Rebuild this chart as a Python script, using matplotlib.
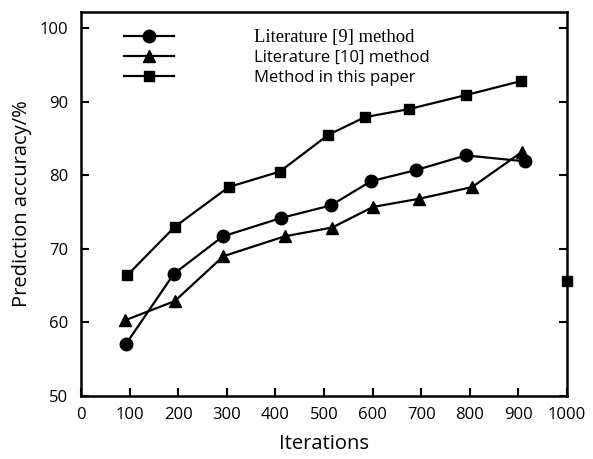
import matplotlib
matplotlib.use("Agg")
import matplotlib.pyplot as plt

# Data
iter_lit9 = [93, 191, 292, 412, 514, 597, 689, 792, 913]
acc_lit9 = [57.1, 66.6, 71.7, 74.2, 75.9, 79.2, 80.7, 82.7, 81.9]

iter_lit10 = [91, 193, 293, 419, 517, 601, 695, 805, 908]
acc_lit10 = [60.3, 62.9, 69.0, 71.7, 72.9, 75.7, 76.8, 78.4, 83.2]

iter_ours = [95, 193, 304, 409, 509, 584, 675, 792, 905]
acc_ours = [66.4, 73.0, 78.4, 80.5, 85.5, 87.9, 89.0, 90.9, 92.8]

stray_x = [1000]
stray_y = [65.6]

labels = ["Literature [9] method", "Literature [10] method", "Method in this paper"]
x_ticks = [0, 100, 200, 300, 400, 500, 600, 700, 800, 900, 1000]
y_ticks = [50, 60, 70, 80, 90, 100]

fig = plt.figure(figsize=(5.93, 4.59), dpi=100)
ax = fig.add_axes([0.1366, 0.1373, 0.8194, 0.8366])

sans = ["Open Sans", "DejaVu Sans"]

l1, = ax.plot(iter_lit9, acc_lit9, color="black", lw=1.6, marker="o", ms=9, clip_on=False)
l2, = ax.plot(iter_lit10, acc_lit10, color="black", lw=1.6, marker="^", ms=9, clip_on=False)
l3, = ax.plot(iter_ours, acc_ours, color="black", lw=1.6, marker="s", ms=7.5, clip_on=False)
ax.plot(stray_x, stray_y, ls="none", color="black", marker="s", ms=7.5, clip_on=False)

ax.set_xlim(0, 1000)
ax.set_ylim(50, 102.2)
ax.set_xticks(x_ticks)
ax.set_yticks(y_ticks)
ax.tick_params(axis="both", direction="in", length=6, width=1.5,
               right=True, top=False, pad=9)
ax.tick_params(axis="x", pad=8)
for lab in ax.get_xticklabels() + ax.get_yticklabels():
    lab.set_family(sans)
    lab.set_fontsize(12)
for s in ax.spines.values():
    s.set_linewidth(1.8)

ax.set_xlabel("Iterations", fontsize=14.5, family=sans, labelpad=8)
ax.set_ylabel("Prediction accuracy/%", fontsize=14.5, family=sans, labelpad=6)

leg = ax.legend([l1, l2, l3], labels, loc="upper left", frameon=False,
                bbox_to_anchor=(0.058, 0.995), handlelength=3.0, handletextpad=4.8,
                labelspacing=0.25, fontsize=12)
texts = leg.get_texts()
texts[0].set_family("Liberation Serif")
texts[0].set_fontsize(13.4)
texts[1].set_family(sans)
texts[2].set_family(sans)

fig.savefig("out.png", dpi=100)
